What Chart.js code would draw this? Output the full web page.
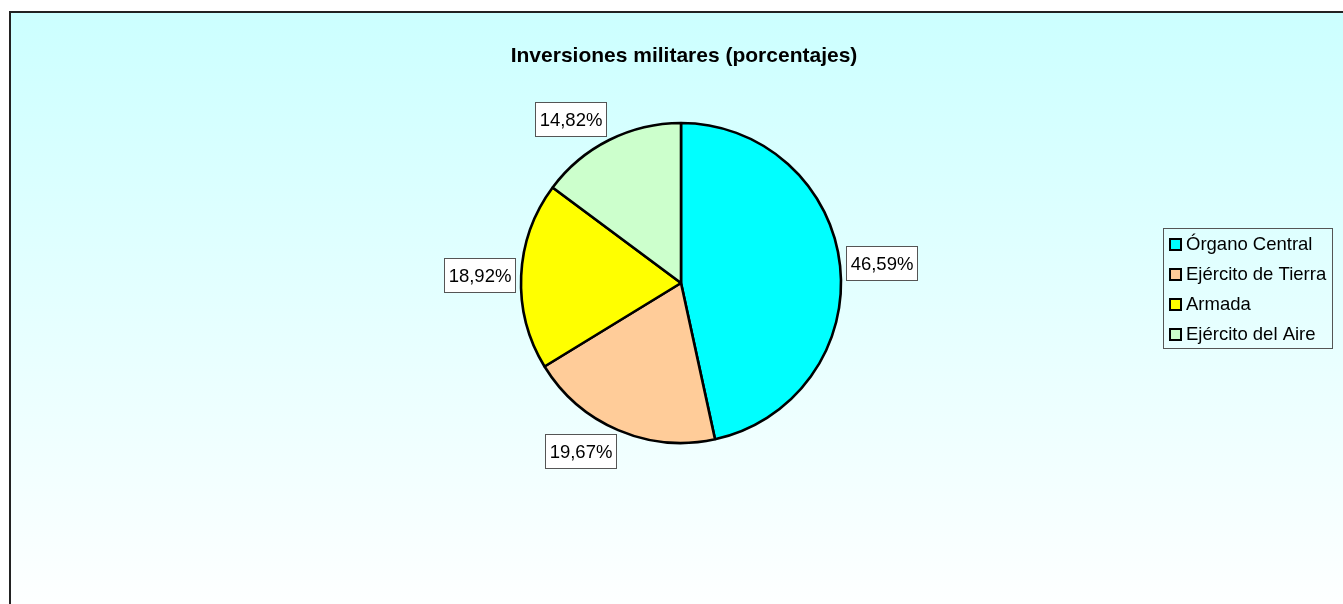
<!DOCTYPE html>
<html>
<head>
<meta charset="utf-8">
<title>Inversiones militares</title>
<script src="https://cdn.jsdelivr.net/npm/chart.js@4.4.1/dist/chart.umd.min.js"></script>
<style>
    body { margin: 0; background: #fff; }
    #chart { display: block; }
</style>
</head>
<body>
<canvas id="chart" width="1343" height="604"></canvas>
<script>
const titleText = 'Inversiones militares (porcentajes)'
const labels = ['Órgano Central', 'Ejército de Tierra', 'Armada', 'Ejército del Aire']
const values = [46.59, 19.67, 18.92, 14.82]
const colors = ['#00FFFF', '#FFCC99', '#FFFF00', '#CCFFCC']

const fontName = '"Liberation Sans", Arial, sans-serif'

function pctText(v) {
    return v.toFixed(2).replace('.', ',') + '%'
}

// background of the chart with the frame (left and top edges only are visible)
const backgroundPlugin = {
    id: 'background',
    beforeDraw(chart) {
        const ctx = chart.ctx
        const W = chart.width, H = chart.height
        ctx.save()
        ctx.fillStyle = '#ffffff'
        ctx.fillRect(0, 0, W, H)
        const grad = ctx.createLinearGradient(0, 12, 0, H + 20)
        grad.addColorStop(0, '#CCFFFF')
        grad.addColorStop(1, '#FFFFFF')
        ctx.fillStyle = grad
        ctx.fillRect(10, 12, W - 10, H - 12)
        ctx.strokeStyle = '#222222'
        ctx.lineWidth = 2
        ctx.beginPath()
        ctx.moveTo(10, H)
        ctx.lineTo(10, 12)
        ctx.lineTo(W, 12)
        ctx.stroke()
        ctx.restore()
    }
}

const titlePlugin = {
    id: 'excelTitle',
    afterDraw(chart) {
        const ctx = chart.ctx
        ctx.save()
        ctx.font = 'bold 21px ' + fontName
        ctx.fillStyle = '#000'
        ctx.textAlign = 'center'
        ctx.textBaseline = 'alphabetic'
        ctx.fillText(titleText, 684, 62)
        ctx.restore()
    }
}

// percentage boxes outside each slice
const labelPlugin = {
    id: 'sliceLabels',
    afterDatasetsDraw(chart) {
        const ctx = chart.ctx
        const meta = chart.getDatasetMeta(0)
        ctx.save()
        ctx.font = '18.5px ' + fontName
        meta.data.forEach((arc, i) => {
            const p = arc.getProps(['x', 'y', 'startAngle', 'endAngle', 'outerRadius'], true)
            const mid = (p.startAngle + p.endAngle) / 2
            const cos = Math.cos(mid), sin = Math.sin(mid)
            const px = p.x + (p.outerRadius + 6) * cos
            const py = p.y + (p.outerRadius + 6) * sin
            const text = pctText(chart.data.datasets[0].data[i])
            const w = Math.round(ctx.measureText(text).width + 8)
            const h = 34
            const left = Math.round(cos >= 0 ? px : px - w)
            const top = Math.round(py + h / 2 * sin - h / 2)
            ctx.fillStyle = '#ffffff'
            ctx.fillRect(left, top, w, h)
            ctx.strokeStyle = '#555555'
            ctx.lineWidth = 1
            ctx.strokeRect(left + 0.5, top + 0.5, w, h)
            ctx.fillStyle = '#000'
            ctx.textAlign = 'center'
            ctx.textBaseline = 'middle'
            ctx.fillText(text, left + w / 2 + 0.5, top + h / 2 + 1.5)
        })
        ctx.restore()
    }
}

// legend box on the right
const legendPlugin = {
    id: 'excelLegend',
    afterDraw(chart) {
        const ctx = chart.ctx
        const boxLeft = 1163, boxTop = 228, rowH = 30
        const textX = 1186
        ctx.save()
        ctx.font = '18.5px ' + fontName
        let maxW = 0
        chart.data.labels.forEach(l => { maxW = Math.max(maxW, ctx.measureText(l).width) })
        const boxW = Math.round(textX - boxLeft + maxW + 6)
        const boxH = rowH * chart.data.labels.length
        ctx.strokeStyle = '#555555'
        ctx.lineWidth = 1
        ctx.strokeRect(boxLeft + 0.5, boxTop + 0.5, boxW, boxH)
        chart.data.labels.forEach((l, i) => {
            const cy = boxTop + 16 + i * rowH
            ctx.fillStyle = chart.data.datasets[0].backgroundColor[i]
            ctx.fillRect(1169, cy - 6, 13, 13)
            ctx.strokeStyle = '#000'
            ctx.lineWidth = 2
            ctx.strokeRect(1170, cy - 5, 11, 11)
            ctx.fillStyle = '#000'
            ctx.textAlign = 'left'
            ctx.textBaseline = 'middle'
            ctx.fillText(l, textX, cy + 1)
        })
        ctx.restore()
    }
}

const ctx = document.getElementById('chart').getContext('2d')
const pieChart = new Chart(ctx, {
    type: 'pie',
    data: {
        labels: labels,
        datasets: [{
            data: values,
            backgroundColor: colors,
            borderColor: '#000000',
            borderWidth: 2.6,
            hoverOffset: 0
        }]
    },
    options: {
        responsive: false,
        animation: false,
        devicePixelRatio: 1,
        radius: 160,
        layout: {
            padding: { left: 511, right: 492, top: 113, bottom: 151 }
        },
        plugins: {
            legend: { display: false },
            title: { display: false },
            tooltip: { enabled: false }
        }
    },
    plugins: [backgroundPlugin, labelPlugin, titlePlugin, legendPlugin]
})
</script>
</body>
</html>
